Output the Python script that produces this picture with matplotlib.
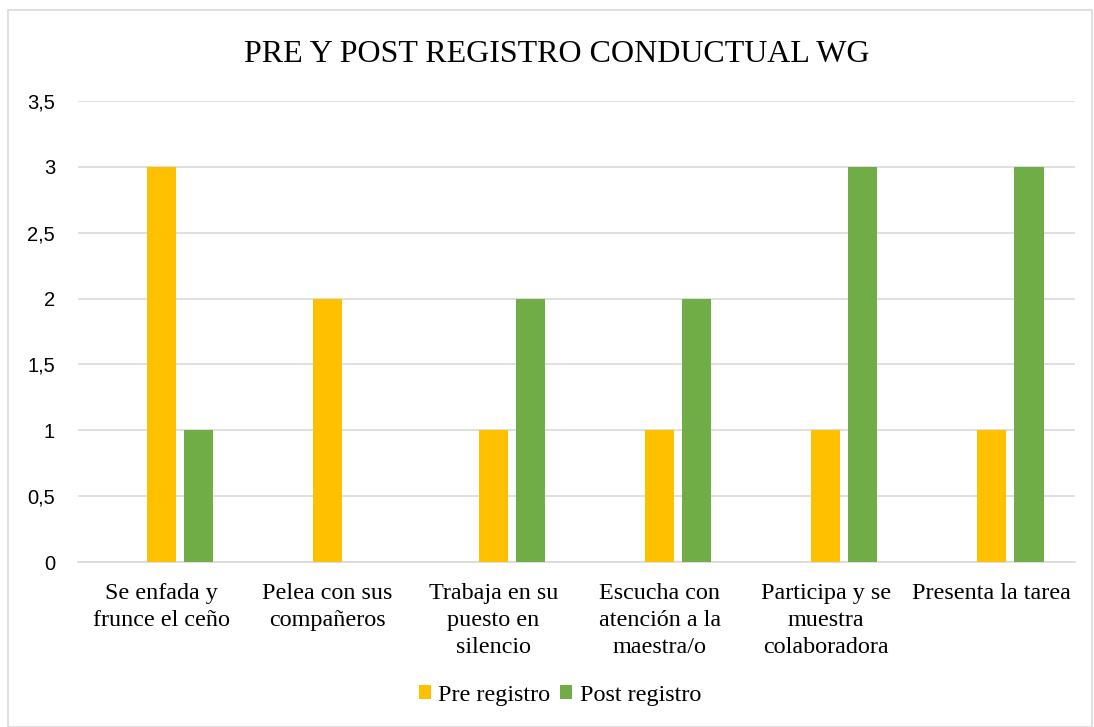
import matplotlib
matplotlib.use('Agg')
import matplotlib.pyplot as plt
from matplotlib.patches import Rectangle
import numpy as np

categories = ['Se enfada y\nfrunce el ceño', 'Pelea con sus\ncompañeros',
              'Trabaja en su\npuesto en\nsilencio', 'Escucha con\natención a la\nmaestra/o',
              'Participa y se\nmuestra\ncolaboradora', 'Presenta la tarea']
pre_registro = [3, 2, 1, 1, 1, 1]
post_registro = [1, 0, 2, 2, 3, 3]
yticks = [0, 0.5, 1, 1.5, 2, 2.5, 3, 3.5]
ytick_labels = ['0', '0,5', '1', '1,5', '2', '2,5', '3', '3,5']

W, H = 1094, 727
fig = plt.figure(figsize=(W / 100, H / 100), dpi=100)

# outer chart border like the spreadsheet frame
fig.patches.append(Rectangle((8 / W, 0), (W - 10) / W, (H - 10) / H, transform=fig.transFigure,
                             fill=False, edgecolor='#D9D9D9', linewidth=1.2))

ax = fig.add_axes([78 / W, (H - 562) / H, (1075 - 78) / W, (562 - 101) / H])

x = np.arange(len(categories))
bw = 0.175
ax.bar(x, pre_registro, width=bw, color='#FFC000', label='Pre registro', zorder=3)
ax.bar(x + 0.223, post_registro, width=bw, color='#70AD47', label='Post registro', zorder=3)

ax.set_xlim(-0.5, len(categories) - 0.5)
ax.set_ylim(0, 3.5)
ax.set_yticks(yticks)
ax.set_yticklabels(ytick_labels, fontfamily='Liberation Sans', fontsize=14.5)
ax.yaxis.grid(True, color='#D9D9D9', linewidth=1.2, zorder=0)
ax.tick_params(axis='y', length=0, pad=16.5)
ax.tick_params(axis='x', length=0, pad=15)
ax.set_xticks(x)
ax.set_xticklabels(categories, fontfamily='Liberation Serif', fontsize=17.4, linespacing=1.38)

for s in ['top', 'right', 'left']:
    ax.spines[s].set_visible(False)
ax.spines['bottom'].set_color('#D9D9D9')
ax.spines['bottom'].set_linewidth(1.2)

fig.text(557 / W, (H - 54) / H, 'PRE Y POST REGISTRO CONDUCTUAL WG', ha='center', va='center',
         fontfamily='Liberation Serif', fontsize=23)

fig.legend(loc='center', bbox_to_anchor=(560 / W, (H - 695) / H), ncol=2, frameon=False,
           prop={'family': 'Liberation Serif', 'size': 17.4}, handlelength=0.5, handleheight=0.5,
           handletextpad=0.3, columnspacing=0.4)

plt.savefig('out.png', dpi=100)
